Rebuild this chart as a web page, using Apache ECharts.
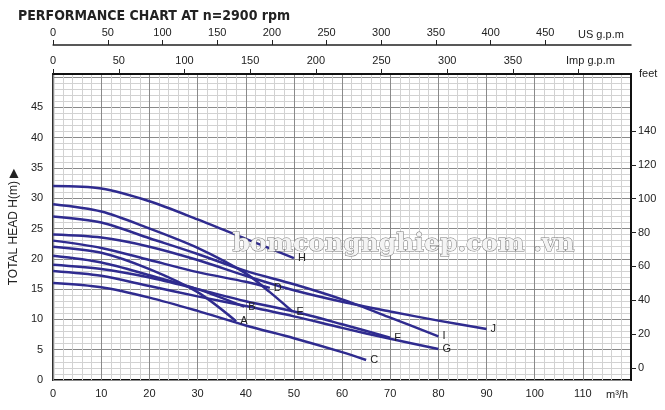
<!DOCTYPE html>
<html>
<head>
<meta charset="utf-8" />
<title>Performance chart</title>
<script src="https://cdn.jsdelivr.net/npm/echarts@6/dist/echarts.min.js"></script>
<style>
  html, body { margin: 0; padding: 0; background: #fff; }
  #chart { width: 665px; height: 410px; }
</style>
</head>
<body>
<div id="chart"></div>
<script>
// flow (m3/h) / head (m) points, one array per curve
var curveA = [[0, 22], [10, 21], [20, 18.3], [30, 14.5], [38, 9.7]];
var curveB = [[0, 20.5], [10, 19.4], [20, 17.3], [30, 15], [39.7, 12.1]];
var curveC = [[0, 16], [10, 15.3], [20, 13.6], [30, 11.4], [40, 9.0], [50, 6.9], [60, 4.6], [65, 3.3]];
var curveD = [[0, 23], [10, 21.8], [20, 19.8], [30, 17.8], [40, 16.2], [45, 15.2]];
var curveE = [[0, 29], [10, 27.8], [20, 25], [30, 21.8], [40, 17.6], [45, 14.5], [49.7, 11.3]];
var curveF = [[0, 19], [10, 18.3], [20, 16.9], [30, 15], [40, 13], [50, 11.3], [60, 9.2], [70, 7]];
var curveG = [[0, 18], [10, 17.2], [20, 15.5], [30, 13.8], [40, 12.2], [50, 10.5], [60, 8.6], [70, 6.8], [80, 5.1]];
var curveH = [[0, 32], [10, 31.6], [20, 29.5], [30, 26.5], [40, 23.3], [50, 20.1]];
var curveI = [[0, 27], [10, 26], [20, 23.4], [30, 20.8], [40, 18], [50, 15.8], [60, 13.3], [70, 10.3], [80, 7.2]];
var curveJ = [[0, 24], [10, 23.5], [20, 22], [30, 19.8], [40, 17.2], [50, 14.8], [60, 12.9], [70, 11.3], [80, 9.8], [90, 8.4]];
var curveNames = ['A', 'B', 'C', 'D', 'E', 'F', 'G', 'H', 'I', 'J'];
var curves = [curveA, curveB, curveC, curveD, curveE, curveF, curveG, curveH, curveI, curveJ];

var flowTicks = [0, 10, 20, 30, 40, 50, 60, 70, 80, 90, 100, 110];
var usGpmTicks = [0, 50, 100, 150, 200, 250, 300, 350, 400, 450];
var impGpmTicks = [0, 50, 100, 150, 200, 250, 300, 350, 400];
var impGpmLabels = [0, 50, 100, 150, 200, 250, 300, 350];
var headTicks = [0, 5, 10, 15, 20, 25, 30, 35, 40, 45];
var feetTicks = [0, 20, 40, 60, 80, 100, 120, 140];

var lineColor = '#2f2b8f';
var txt = { color: '#222', fontFamily: 'Liberation Sans', fontSize: 11 };

var chart = echarts.init(document.getElementById('chart'));

var series = curves.map(function (pts, i) {
    return {
        type: 'line',
        name: curveNames[i],
        data: pts,
        smooth: 0.3,
        showSymbol: false,
        symbol: 'none',
        lineStyle: { color: lineColor, width: 2.5 },
        endLabel: { show: true, formatter: curveNames[i], distance: 4, color: '#222', fontSize: 11, fontFamily: 'Liberation Sans' },
        xAxisIndex: 0,
        yAxisIndex: 0,
        z: 5
    };
});

function unitText(text, left, top) {
    return { type: 'text', left: left, top: top, style: { text: text, fill: '#222', font: '11px "Liberation Sans"' } };
}

var option = {
    animation: false,
    grid: {
        left: 49, right: 34, top: 74, bottom: 30,
        show: true, borderColor: '#111', borderWidth: 2, backgroundColor: 'transparent'
    },
    title: {
        text: 'PERFORMANCE CHART AT n=2900 rpm',
        left: 13, top: 4,
        textStyle: { fontFamily: 'DejaVu Sans Condensed', fontWeight: 'bold', fontSize: 14, color: '#222' }
    },
    graphic: [{
        type: 'text', left: 232, top: 231,
        style: {
            text: 'bomcongnghiep.com .vn', fill: '#f4f4f4',
            font: 'bold 25px "DejaVu Serif"', stroke: '#777', lineWidth: 1,
            shadowColor: 'rgba(0,0,0,0.5)', shadowBlur: 3, shadowOffsetX: 1, shadowOffsetY: 1
        }, z: 10
    },
        unitText('US g.p.m', 578, 29),
        unitText('Imp g.p.m', 566, 55),
        unitText('feet', 639, 68),
        unitText('m³/h', 606, 389)
    ],
    xAxis: [{
        type: 'value', position: 'bottom', min: 0, max: 120, interval: 10,
        axisLine: { show: false, onZero: false }, axisTick: { show: false },
        axisLabel: Object.assign({ customValues: flowTicks, margin: 8 }, txt),
        splitLine: { show: true, lineStyle: { color: '#8a8a8a', width: 1 } },
        minorTick: { show: false, splitNumber: 5 },
        minorSplitLine: { show: true, lineStyle: { color: '#d2d2d2', width: 1 } }
    }, {
        type: 'value', position: 'top', offset: 29, min: 0, max: 120 * 4.403,
        axisLine: { show: true, onZero: false, lineStyle: { color: '#222', width: 1.5 } },
        axisTick: { show: true, inside: false, customValues: usGpmTicks, length: 5, lineStyle: { color: '#222' } },
        axisLabel: Object.assign({ customValues: usGpmTicks, margin: 7 }, txt),
        splitLine: { show: false }
    }, {
        type: 'value', position: 'top', offset: 0, min: 0, max: 120 * 3.666,
        axisLine: { show: true, onZero: false, lineStyle: { color: '#111', width: 2 } },
        axisTick: { show: true, inside: false, customValues: impGpmTicks, length: 5, lineStyle: { color: '#222' } },
        axisLabel: Object.assign({ customValues: impGpmLabels, margin: 8 }, txt),
        splitLine: { show: false }
    }],
    yAxis: [{
        type: 'value', position: 'left', min: 0, max: 50.5, interval: 5,
        axisLine: { show: false, onZero: false }, axisTick: { show: false },
        axisLabel: Object.assign({ customValues: headTicks, margin: 10 }, txt),
        splitLine: { show: true, lineStyle: { color: '#8a8a8a', width: 1 } },
        minorSplitLine: { show: true, lineStyle: { color: '#d2d2d2', width: 1 } },
        minorTick: { splitNumber: 5 },
        name: 'TOTAL HEAD H(m) ▶', nameLocation: 'middle', nameRotate: 90, nameGap: 28,
        nameTextStyle: { color: '#222', fontSize: 12, fontFamily: 'Liberation Sans' }
    }, {
        type: 'value', position: 'right', min: -7.1, max: 173.7,
        axisLine: { show: true, onZero: false, lineStyle: { color: '#111', width: 2 } },
        axisTick: { show: true, inside: false, customValues: feetTicks, length: 5, lineStyle: { color: '#222' } },
        axisLabel: Object.assign({ customValues: feetTicks, margin: 7 }, txt),
        splitLine: { show: false }
    }],
    series: series
};

chart.setOption(option);
</script>
</body>
</html>
